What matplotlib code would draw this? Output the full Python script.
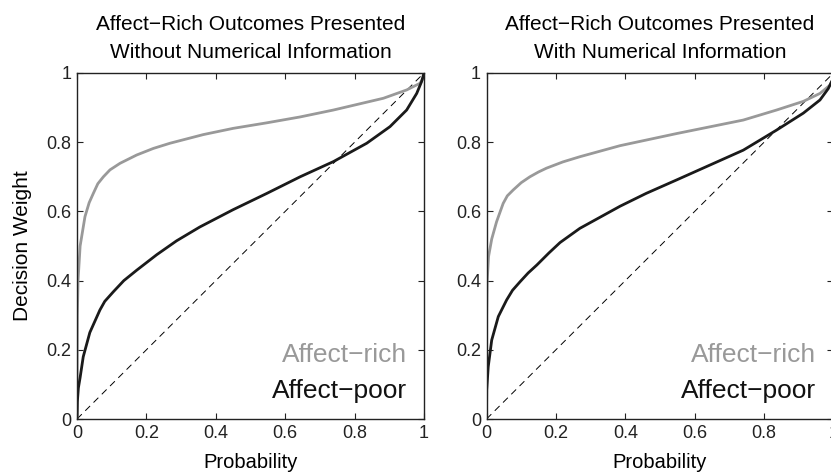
import matplotlib.pyplot as plt

plt.rcParams['font.family'] = ['Liberation Sans', 'DejaVu Sans']

# values (probability -> decision weight)
p_rich_l = [0, 0.001, 0.003, 0.009, 0.023, 0.035, 0.047, 0.06, 0.076, 0.095,
            0.124, 0.15, 0.172, 0.22, 0.268, 0.364, 0.45, 0.547, 0.643, 0.739,
            0.883, 0.950, 0.988, 0.998, 1]
w_rich_l = [0, 0.30, 0.40, 0.50, 0.585, 0.625, 0.652, 0.68, 0.70, 0.72,
            0.739, 0.752, 0.763, 0.782, 0.797, 0.822, 0.840, 0.856, 0.873, 0.893,
            0.927, 0.951, 0.970, 0.985, 1]

p_poor_l = [0, 0.001, 0.004, 0.009, 0.018, 0.037, 0.066, 0.08, 0.105, 0.135,
            0.172, 0.23, 0.287, 0.354, 0.45, 0.547, 0.643, 0.739, 0.835, 0.902,
            0.950, 0.979, 0.993, 1]
w_poor_l = [0, 0.05, 0.09, 0.12, 0.18, 0.25, 0.315, 0.34, 0.368, 0.40,
            0.43, 0.475, 0.515, 0.555, 0.605, 0.652, 0.70, 0.744, 0.797, 0.845,
            0.893, 0.941, 0.975, 1]

p_rich_r = [0, 0.0005, 0.002, 0.006, 0.015, 0.029, 0.048, 0.06, 0.077, 0.1,
            0.125, 0.15, 0.173, 0.22, 0.269, 0.385, 0.548, 0.74, 0.836, 0.913,
            0.961, 0.99, 0.998, 1]
w_rich_r = [0, 0.30, 0.40, 0.47, 0.52, 0.57, 0.623, 0.645, 0.662, 0.683,
            0.70, 0.714, 0.725, 0.743, 0.758, 0.79, 0.825, 0.864, 0.893, 0.918,
            0.941, 0.965, 0.982, 1]

p_poor_r = [0, 0.0006, 0.005, 0.015, 0.034, 0.058, 0.075, 0.097, 0.12, 0.145,
            0.18, 0.212, 0.269, 0.385, 0.46, 0.548, 0.644, 0.74, 0.836, 0.913,
            0.961, 0.985, 0.997, 1]
w_poor_r = [0, 0.084, 0.151, 0.228, 0.296, 0.344, 0.372, 0.397, 0.422, 0.445,
            0.48, 0.51, 0.551, 0.615, 0.652, 0.691, 0.734, 0.777, 0.835, 0.884,
            0.922, 0.955, 0.980, 1]

titles = ['Affect\u2212Rich Outcomes Presented\nWithout Numerical Information',
          'Affect\u2212Rich Outcomes Presented\nWith Numerical Information']
ticks = [0, 0.2, 0.4, 0.6, 0.8, 1]
tick_labels = ['0', '0.2', '0.4', '0.6', '0.8', '1']

fig = plt.figure(figsize=(8.31, 4.72), dpi=100)
ax1 = fig.add_axes([77 / 831, 53 / 472, 347 / 831, 346 / 472])
ax2 = fig.add_axes([486.5 / 831, 53 / 472, 347 / 831, 346 / 472])

panels = [(ax1, p_rich_l, w_rich_l, p_poor_l, w_poor_l, titles[0]),
          (ax2, p_rich_r, w_rich_r, p_poor_r, w_poor_r, titles[1])]

for ax, pr, wr, pp, wp, title in panels:
    ax.plot([0, 1], [0, 1], color='black', lw=0.7, ls=(0, (7, 5)))
    ax.plot(pr, wr, color='#999999', lw=2.0, solid_capstyle='butt')
    ax.plot(pp, wp, color='#1a1a1a', lw=2.0, solid_capstyle='butt')
    ax.set_xlim(0, 1)
    ax.set_ylim(0, 1)
    ax.set_xticks(ticks)
    ax.set_xticklabels(tick_labels)
    ax.set_yticks(ticks)
    ax.set_yticklabels(tick_labels)
    ax.tick_params(direction='in', length=4, width=0.8, top=True, right=True,
                   labelsize=13, pad=4, colors='#222222')
    for s in ax.spines.values():
        s.set_linewidth(1.0)
        s.set_color('#222222')
    ax.set_xlabel('Probability', fontsize=14.5, labelpad=8)
    ax.set_title(title, fontsize=15, linespacing=1.6, pad=11)
    ax.text(0.951, 0.185, 'Affect\u2212rich', color='#999999', fontsize=19,
            ha='right', va='center', transform=ax.transAxes)
    ax.text(0.951, 0.081, 'Affect\u2212poor', color='#111111', fontsize=19,
            ha='right', va='center', transform=ax.transAxes)

ax1.set_ylabel('Decision Weight', fontsize=15, labelpad=10)

fig.savefig('out.png', dpi=100)
